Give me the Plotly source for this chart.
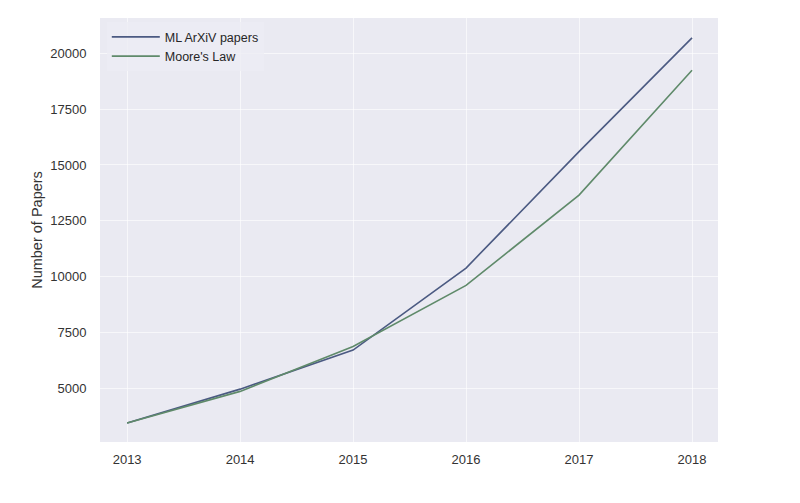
import plotly.graph_objects as go

years = [2013, 2014, 2015, 2016, 2017, 2018]
ml_papers = [3430, 4950, 6700, 10380, 15600, 20700]
moores_law = [3430, 4850, 6860, 9600, 13650, 19250]
y_ticks = [5000, 7500, 10000, 12500, 15000, 17500, 20000]

fig = go.Figure()
fig.add_trace(go.Scatter(x=years, y=ml_papers, mode="lines", name="ML ArXiV papers",
                         line=dict(color="#4B5A82", width=1.6)))
fig.add_trace(go.Scatter(x=years, y=moores_law, mode="lines", name="Moore's Law",
                         line=dict(color="#5F8A6A", width=1.6)))

fig.update_layout(
    width=800, height=503,
    paper_bgcolor="white", plot_bgcolor="#EAEAF2",
    margin=dict(l=92, r=90, t=10, b=69, autoexpand=False),
    font=dict(family="Liberation Sans, Arial, sans-serif", size=13, color="#333333"),
    showlegend=True,
    legend=dict(x=0.011, y=0.99, xanchor="left", yanchor="top",
                bgcolor="rgba(236,236,244,0.8)", font=dict(size=12.5, color="#262626"),
                itemwidth=48),
    xaxis=dict(range=[2012.76, 2018.23], tickmode="array", tickvals=years,
               ticktext=[str(y) for y in years],
               showgrid=True, gridcolor="rgba(255,255,255,0.6)", gridwidth=1, zeroline=False,
               showline=False, ticks="outside", ticklen=5, tickcolor="rgba(0,0,0,0)",
               automargin=False),
    yaxis=dict(range=[2580, 21590], tickmode="array", tickvals=y_ticks,
               ticktext=[str(v) for v in y_ticks],
               showgrid=True, gridcolor="rgba(255,255,255,0.6)", gridwidth=1, zeroline=False,
               showline=False, ticks="outside", ticklen=10, tickcolor="rgba(0,0,0,0)",
               automargin=False,
               title=dict(text="Number of Papers", font=dict(size=14.5, color="#333333"), standoff=4)),
)

fig.write_html("out.html")
